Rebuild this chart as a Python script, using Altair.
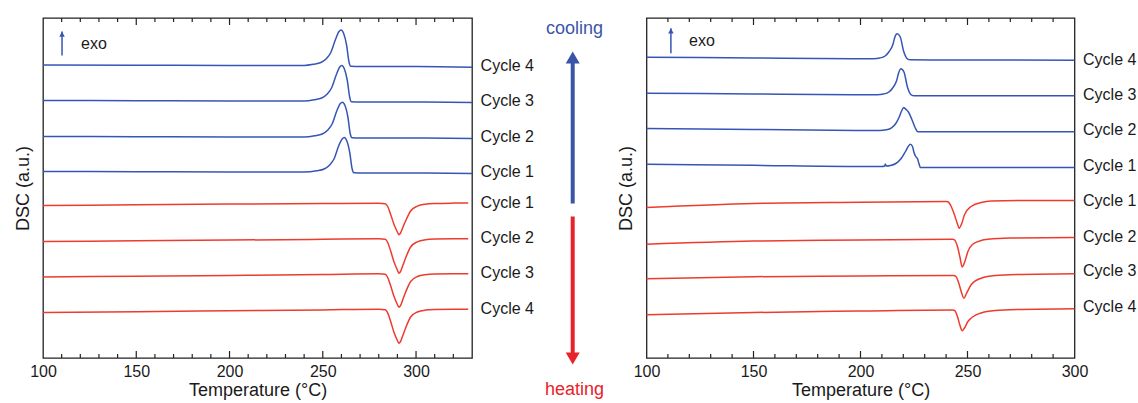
import altair as alt
import pandas as pd

FONT = "Liberation Sans"
BLUE = "#3656B4"
RED = "#EE3B2F"
BLUE_ARROW = "#3A55A8"
RED_ARROW = "#E8222A"
TXT = "#1a1a1a"

# ---------------- left panel (x: Temperature, y: DSC a.u.) ----------------
LB4_T = [100, 150, 200, 240, 245, 249, 252, 254.3, 256.9, 258.7, 259.8, 261.2, 262.8, 264, 265, 270, 300, 330]
LB4_V = [294.5, 294.3, 294, 294, 295.2, 297, 301, 307, 320.5, 328, 329.5, 326, 314, 298, 293.2, 293, 293, 292.3]
LB3_T = [100, 150, 200, 240, 245.4, 249.4, 252.4, 254.7, 257.3, 259.1, 260.2, 261.6, 263.2, 264.4, 265.4, 270, 300, 330]
LB3_V = [259, 258.8, 258.6, 258.5, 259.7, 261.5, 265.5, 271.5, 285, 292.5, 294, 290.5, 278.5, 262.5, 257.7, 257.5, 257.5, 257]
LB2_T = [100, 150, 200, 240, 245.7, 249.7, 252.7, 255, 257.6, 259.4, 260.5, 261.9, 263.5, 264.7, 265.7, 270, 300, 330]
LB2_V = [223, 222.8, 222.6, 222.5, 223.7, 225.5, 229.5, 235.5, 249, 256, 257.3, 254, 242, 226, 221.7, 221.5, 221.5, 221]
LB1_T = [100, 150, 200, 240, 246.7, 250.7, 253.7, 256, 258.6, 260.4, 261.5, 262.9, 264.5, 265.7, 266.7, 272, 300, 330]
LB1_V = [188, 187.8, 187.6, 187.5, 188.7, 190.5, 194.5, 200.5, 214, 220.5, 222, 218.5, 206.5, 191, 186.7, 186.5, 186.5, 186]

LR_T = [100, 150, 200, 250, 280, 283.5, 284.8, 286.4, 288.2, 290, 290.8, 291.7, 293, 294.4, 297.1, 300.7, 305, 310, 320, 328]
LR1_V = [154, 154.7, 155.4, 156, 156.3, 155.8, 153, 145, 135, 127.5, 124.7, 126.5, 132.5, 138.5, 148.5, 153.3, 155.3, 156, 156.4, 156.5]
LR2_V = [118, 118.7, 119.4, 120.2, 120.7, 120.2, 117, 108.5, 97.5, 89.5, 86.3, 88, 94.5, 101.5, 112.5, 117.7, 119.7, 120.4, 120.7, 120.7]
LR3_V = [82.5, 83.3, 84.1, 85, 85.7, 85.2, 82, 73.7, 63, 55, 52.3, 54, 60.5, 67.3, 78, 83, 84.8, 85.4, 85.7, 85.7]
LR4_V = [47, 47.8, 48.7, 49.6, 50.3, 49.8, 46.6, 38, 27, 19, 16.3, 18, 24.5, 31.5, 42.5, 47.5, 49.4, 50, 50.3, 50.3]

# ---------------- right panel ----------------
RB4_T = [100, 150, 200, 206, 209, 211.5, 213.4, 215.1, 216, 217.1, 218.5, 220.2, 221.9, 223.3, 240, 270, 300]
RB4_V = [299.3, 298.5, 297.7, 297.8, 298.5, 300.5, 305, 311.7, 319, 322.7, 320, 305, 297.7, 296.7, 296.5, 296.4, 296.3]
RB3_T = [100, 150, 200, 207.8, 210.8, 213.3, 215.2, 216.9, 217.8, 218.9, 220.3, 222, 223.7, 225.2, 240, 270, 300]
RB3_V = [263.3, 262.5, 261.7, 261.8, 262.5, 264.5, 269, 276, 283.5, 287.7, 284.5, 269, 261.7, 260.7, 260.7, 260.7, 260.7]
RB2_T = [100, 150, 200, 209, 212, 214.5, 216.5, 218.2, 219.3, 220.2, 220.8, 221.5, 222.4, 224, 225.5, 226.8, 240, 270, 300]
RB2_V = [228, 227, 226, 226, 226.7, 228.7, 233, 240, 246, 249, 248, 246.7, 244.5, 237, 229, 224.7, 224.7, 224.7, 224.7]
RB1_T = [100, 150, 200, 210, 211.3, 211.6, 212, 214, 216.5, 219, 221, 222.3, 223.3, 224.3, 225, 225.8, 226.6, 227.3, 228, 240, 270, 300]
RB1_V = [192.3, 191.2, 190, 190, 190.5, 192.5, 190.5, 191, 193, 198, 205, 210, 212.3, 210, 204, 200, 198, 193, 189, 189, 189, 189]

RR1_T = [100, 150, 200, 240, 240.8, 242.4, 243.9, 245.2, 246.1, 247.3, 248.6, 251.7, 256.4, 261.1, 280, 300]
RR1_V = [149, 153, 154.2, 155, 154.7, 150, 141.7, 133.3, 128.3, 133, 141.7, 150, 154, 155.5, 156, 156]
RR2_T = [100, 150, 200, 243, 244, 245.3, 246.5, 247.5, 248.6, 250.2, 253.2, 259.5, 270, 300]
RR2_V = [112.3, 115.5, 116.5, 117.3, 116.5, 110, 99, 89.5, 94, 105, 113.3, 117.3, 118.5, 119]
RR3_T = [100, 150, 200, 243.5, 244.6, 245.9, 247.2, 248.3, 249.5, 251.7, 256.4, 263, 275, 300]
RR3_V = [77.7, 79.8, 80.5, 81, 80, 73.5, 64, 58.3, 63, 71.7, 78.3, 81, 82, 82.7]
RR4_T = [100, 150, 200, 243, 244, 245.3, 246.5, 247.5, 248.6, 250.2, 256, 263, 275, 300]
RR4_V = [41.7, 44, 45.5, 46.5, 46, 40, 31, 25.7, 28.5, 35, 43.3, 46, 47, 47.7]

# labels
CYCLE_LABELS = ["Cycle 4", "Cycle 3", "Cycle 2", "Cycle 1", "Cycle 1", "Cycle 2", "Cycle 3", "Cycle 4"]
L_LABEL_V = [294, 259, 223, 188, 157, 122, 87, 51]
R_LABEL_V = [297, 262, 227, 191, 156, 120, 86, 50]
L_LABEL_X = 334.6
R_LABEL_X = 304

TICK_LABELS = [100, 150, 200, 250, 300]
L_TICKS = list(range(110, 330, 10))
R_TICKS = list(range(110, 300, 10))
MAJOR = [150, 200, 250, 300]

# exo annotation: (x, arrow tail, arrow tip, text x, text v)
L_EXO = dict(x=110.2, tail=304, tip=328, tx=120.4, tv=316)
R_EXO = dict(x=111.4, tail=303.3, tip=328.3, tx=119.9, tv=316)

# middle annotation (a.u., same vertical scale as panels)
BLUE_ARROW_V = [154.5, 306.5]
RED_ARROW_V = [141.5, -6.5]
COOL_V = 329.5
HEAT_V = -31.5


def make_df(curves):
    rows = []
    for name, kind, T, V in curves:
        for t, v in zip(T, V):
            rows.append({"T": t, "v": v, "curve": name, "kind": kind})
    return pd.DataFrame(rows)


def panel(curves, xdom, ydom, ticks, label_x, label_v, exo, width):
    xs = alt.Scale(domain=xdom, nice=False, zero=False)
    ys = alt.Scale(domain=ydom, nice=False, zero=False)
    xaxis = alt.Axis(values=TICK_LABELS, ticks=False, tickSize=0, domain=False, grid=False,
                     labelFlush=False, labelOverlap=False, labelPadding=5, labelFontSize=16,
                     labelFont=FONT, labelColor=TXT, format="d",
                     title="Temperature (°C)", titleFont=FONT, titleFontSize=18,
                     titleFontWeight="normal", titlePadding=2, titleColor=TXT)
    yaxis = alt.Axis(labels=False, ticks=False, tickSize=0, domain=False, grid=False,
                     labelPadding=0, title="DSC (a.u.)", titleFont=FONT, titleFontSize=18,
                     titleFontWeight="normal", titlePadding=11, titleColor=TXT)

    def X(f):
        return alt.X(f, type="quantitative", scale=xs, axis=xaxis)

    def Y(f):
        return alt.Y(f, type="quantitative", scale=ys, axis=yaxis)

    df = make_df(curves)
    lines = alt.Chart(df).mark_line(interpolate="monotone", strokeWidth=1.5).encode(
        x=X("T"), y=Y("v"),
        color=alt.Color("kind:N", scale=alt.Scale(domain=["cooling", "heating"], range=[BLUE, RED]), legend=None),
        detail="curve:N",
    )

    tick_rows = []
    for t in ticks:
        ln = 7 if t in MAJOR else 4
        tick_rows.append({"T": t, "y0": ydom[0], "y1": ydom[0] + ln})
        tick_rows.append({"T": t, "y0": ydom[1], "y1": ydom[1] - ln})
    tick_layer = alt.Chart(pd.DataFrame(tick_rows)).mark_rule(color="#222", strokeWidth=1.2).encode(
        x=X("T"), y=Y("y0"), y2="y1")

    lab = pd.DataFrame({"x": [label_x] * len(CYCLE_LABELS), "v": label_v, "label": CYCLE_LABELS})
    labels = alt.Chart(lab).mark_text(align="left", baseline="middle", fontSize=16, font=FONT,
                                      color=TXT).encode(x=X("x"), y=Y("v"), text="label:N")

    exo_df = pd.DataFrame({"x": [exo["x"]], "tail": [exo["tail"]], "tip": [exo["tip"]],
                           "tx": [exo["tx"]], "tv": [exo["tv"]], "t": ["exo"]})
    exo_shaft = alt.Chart(exo_df).mark_rule(color=BLUE, strokeWidth=1.5).encode(
        x=X("x"), y=Y("tail"), y2="tip")
    exo_head = alt.Chart(exo_df).mark_point(shape="M0,0L1,1.9L-1,1.9Z", filled=True, size=30,
                                            opacity=1, color=BLUE).encode(x=X("x"), y=Y("tip"))
    exo_txt = alt.Chart(exo_df).mark_text(align="left", baseline="middle", fontSize=16, font=FONT,
                                          color=TXT).encode(x=X("tx"), y=Y("tv"), text="t:N")

    return alt.layer(tick_layer, lines, labels, exo_shaft, exo_head, exo_txt).properties(
        width=width, height=340)


left = panel(
    [("L-c4", "cooling", LB4_T, LB4_V), ("L-c3", "cooling", LB3_T, LB3_V),
     ("L-c2", "cooling", LB2_T, LB2_V), ("L-c1", "cooling", LB1_T, LB1_V),
     ("L-h1", "heating", LR_T, LR1_V), ("L-h2", "heating", LR_T, LR2_V),
     ("L-h3", "heating", LR_T, LR3_V), ("L-h4", "heating", LR_T, LR4_V)],
    [100, 330], [1.5, 341.5], L_TICKS, L_LABEL_X, L_LABEL_V, L_EXO, 429)

right = panel(
    [("R-c4", "cooling", RB4_T, RB4_V), ("R-c3", "cooling", RB3_T, RB3_V),
     ("R-c2", "cooling", RB2_T, RB2_V), ("R-c1", "cooling", RB1_T, RB1_V),
     ("R-h1", "heating", RR1_T, RR1_V), ("R-h2", "heating", RR2_T, RR2_V),
     ("R-h3", "heating", RR3_T, RR3_V), ("R-h4", "heating", RR4_T, RR4_V)],
    [100, 300], [-1.5, 338.5], R_TICKS, R_LABEL_X, R_LABEL_V, R_EXO, 428)

# middle: cooling / heating arrows
MID_W = 60
ARROW_X = 43.45
TEXT_X = 45.25
my = alt.Scale(domain=[0, 340], nice=False, zero=False)

arr = pd.DataFrame({
    "tail": [BLUE_ARROW_V[0], RED_ARROW_V[0]],
    "shaft_end": [BLUE_ARROW_V[1] - 8, RED_ARROW_V[1] + 8],
    "tip": [BLUE_ARROW_V[1], RED_ARROW_V[1]],
    "kind": ["cooling", "heating"],
})
acol = alt.Color("kind:N", scale=alt.Scale(domain=["cooling", "heating"], range=[BLUE_ARROW, RED_ARROW]), legend=None)
shafts = alt.Chart(arr).mark_rule(strokeWidth=4).encode(
    x=alt.value(ARROW_X), y=alt.Y("tail:Q", scale=my, axis=None), y2="shaft_end", color=acol)
head_up = alt.Chart(arr[arr.kind == "cooling"]).mark_point(
    shape="M0,0L1,1.7L-1,1.7Z", filled=True, size=196, opacity=1, color=BLUE_ARROW).encode(
    x=alt.value(ARROW_X), y=alt.Y("tip:Q", scale=my, axis=None))
head_dn = alt.Chart(arr[arr.kind == "heating"]).mark_point(
    shape="M0,0L1,-1.7L-1,-1.7Z", filled=True, size=196, opacity=1, color=RED_ARROW).encode(
    x=alt.value(ARROW_X), y=alt.Y("tip:Q", scale=my, axis=None))
words = pd.DataFrame({"v": [COOL_V, HEAT_V], "t": ["cooling", "heating"], "kind": ["cooling", "heating"]})
word_layer = alt.Chart(words).mark_text(align="center", baseline="middle", fontSize=18, font=FONT).encode(
    x=alt.value(TEXT_X), y=alt.Y("v:Q", scale=my, axis=None), text="t:N",
    color=alt.Color("kind:N", scale=alt.Scale(domain=["cooling", "heating"], range=["#3A55B0", RED_ARROW]), legend=None))
middle = alt.layer(shafts, head_up, head_dn, word_layer).properties(
    width=MID_W, height=340, view=alt.ViewBackground(stroke="transparent"))

spacing = (174.5 - MID_W) / 2
chart = alt.hconcat(left, middle, right, spacing=spacing, bounds="flush").resolve_scale(
    color="independent").properties(
    padding={"left": 13, "top": 16, "right": 0, "bottom": 0}, background="white"
).configure_view(stroke="#222", strokeWidth=1.3)

chart.save("out.html", embed_options={"renderer": "svg", "actions": False})
